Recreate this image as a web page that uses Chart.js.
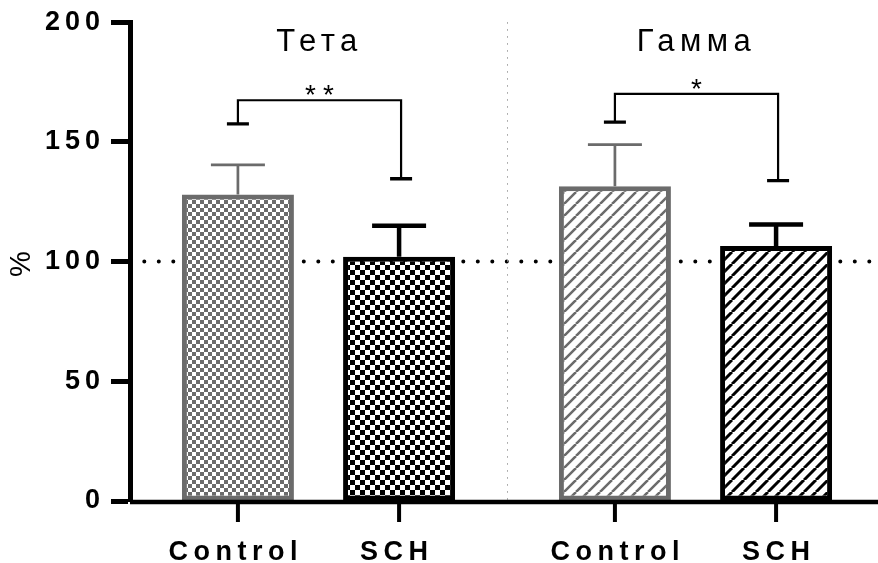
<!DOCTYPE html>
<html>
<head>
<meta charset="utf-8">
<script src="https://cdn.jsdelivr.net/npm/chart.js@4"></script>
<style>
  html, body { margin: 0; padding: 0; overflow: hidden; background: #fff; }
</style>
</head>
<body>
<canvas id="myChart" width="884" height="563"></canvas>
<script>
const bands = ['Тета', 'Гамма'];
const groups = ['Control', 'SCH'];
const controlMean = [128, 131.5];
const controlSem = [12.4, 17.4];
const schMean = [102, 106.5];
const schSem = [13, 9];
// significance brackets: left foot, top line, right foot
const sigLeft = [157.5, 158.3];
const sigTop = [167.4, 170.1];
const sigRight = [134.6, 133.8];
const sigText = ['**', '*'];
const refLine = 100;
const yTicks = [0, 50, 100, 150, 200];

const FONT = '"Liberation Sans", Arial, sans-serif';
const GRAY = '#6b6b6b';

const canvas = document.getElementById('myChart');
const ctx = canvas.getContext('2d');

function checker(size, color) {
  const c = document.createElement('canvas');
  c.width = c.height = size * 2;
  const g = c.getContext('2d');
  g.fillStyle = '#fff';
  g.fillRect(0, 0, size * 2, size * 2);
  g.fillStyle = color;
  g.fillRect(0, 0, size, size);
  g.fillRect(size, size, size, size);
  return ctx.createPattern(c, 'repeat');
}

function hatch(step, color, w) {
  const c = document.createElement('canvas');
  c.width = c.height = step;
  const g = c.getContext('2d');
  g.fillStyle = '#fff';
  g.fillRect(0, 0, step, step);
  g.strokeStyle = color;
  g.lineWidth = w;
  g.beginPath();
  [-step, 0, step].forEach(k => {
    g.moveTo(k, step);
    g.lineTo(k + step, 0);
  });
  g.stroke();
  return ctx.createPattern(c, 'repeat');
}

const controlFill = [checker(4, GRAY), hatch(12, GRAY, 2.5)];
const schFill = [checker(5, '#000'), hatch(12, '#000', 3)];

const extras = {
  id: 'extras',
  beforeDraw(chart) {
    chart.ctx.letterSpacing = '5px';
  },
  beforeDatasetsDraw(chart) {
    const { ctx, chartArea, scales: { x, y } } = chart;
    ctx.save();
    // dotted 100% line
    const yb = y.getPixelForValue(refLine);
    ctx.strokeStyle = '#000';
    ctx.lineWidth = 4;
    ctx.lineCap = 'round';
    ctx.setLineDash([0, 14.5]);
    ctx.beginPath();
    ctx.moveTo(chartArea.left + 14.3, yb);
    ctx.lineTo(chart.width, yb);
    ctx.stroke();
    // divider between bands
    const xm = Math.round((x.getPixelForValue(0) + x.getPixelForValue(1)) / 2) + 0.5;
    ctx.setLineDash([1.5, 5.5]);
    ctx.lineCap = 'butt';
    ctx.lineWidth = 1;
    ctx.strokeStyle = '#9a9a9a';
    ctx.beginPath();
    ctx.moveTo(xm, chartArea.top);
    ctx.lineTo(xm, chartArea.bottom);
    ctx.stroke();
    ctx.restore();
  },
  afterDatasetsDraw(chart) {
    const { ctx, chartArea, scales: { x, y } } = chart;
    const metaC = chart.getDatasetMeta(0);
    const metaS = chart.getDatasetMeta(1);
    ctx.save();
    ctx.setLineDash([]);

    // error bars (upper only)
    const errs = [
      { meta: metaC, mean: controlMean, sem: controlSem, color: GRAY, w: 2.7 },
      { meta: metaS, mean: schMean, sem: schSem, color: '#000', w: 4.5 },
    ];
    errs.forEach(e => {
      ctx.strokeStyle = e.color;
      ctx.lineWidth = e.w;
      e.meta.data.forEach((bar, j) => {
        const yTop = y.getPixelForValue(e.mean[j] + e.sem[j]);
        ctx.beginPath();
        ctx.moveTo(bar.x, bar.y);
        ctx.lineTo(bar.x, yTop);
        ctx.moveTo(bar.x - 27, yTop);
        ctx.lineTo(bar.x + 27, yTop);
        ctx.stroke();
      });
    });

    // x axis line and ticks
    ctx.strokeStyle = '#000';
    ctx.lineWidth = 4.5;
    ctx.beginPath();
    ctx.moveTo(chartArea.left, chartArea.bottom + 1);
    ctx.lineTo(chart.width, chartArea.bottom + 1);
    ctx.stroke();
    ctx.lineWidth = 4;
    [metaC, metaS].forEach(m => m.data.forEach(bar => {
      ctx.beginPath();
      ctx.moveTo(bar.x, chartArea.bottom);
      ctx.lineTo(bar.x, chartArea.bottom + 21);
      ctx.stroke();
    }));

    // x labels (first band's labels sit a little left of the ticks)
    ctx.fillStyle = '#000';
    ctx.textAlign = 'center';
    ctx.textBaseline = 'alphabetic';
    ctx.font = 'bold 27px ' + FONT;
    ctx.letterSpacing = '5.5px';
    [metaC, metaS].forEach((m, i) => m.data.forEach((bar, j) => {
      const shift = j === 0 ? -5 : 0;
      ctx.fillText(groups[i], bar.x + 2.75 + shift, 560);
    }));

    // band titles
    ctx.font = '31px ' + FONT;
    ctx.letterSpacing = '5.5px';
    bands.forEach((b, j) => {
      ctx.fillText(b, x.getPixelForValue(j) + 1, 51);
    });

    // significance brackets
    bands.forEach((b, j) => {
      const xl = metaC.data[j].x;
      const xr = metaS.data[j].x + 2;
      const yl = y.getPixelForValue(sigLeft[j]);
      const yt = y.getPixelForValue(sigTop[j]);
      const yr = y.getPixelForValue(sigRight[j]);
      ctx.lineWidth = 2.2;
      ctx.beginPath();
      ctx.moveTo(xl, yl);
      ctx.lineTo(xl, yt);
      ctx.lineTo(xr, yt);
      ctx.lineTo(xr, yr);
      ctx.stroke();
      ctx.lineWidth = 3.3;
      ctx.beginPath();
      ctx.moveTo(xl - 11, yl);
      ctx.lineTo(xl + 11, yl);
      ctx.moveTo(xr - 11, yr);
      ctx.lineTo(xr + 11, yr);
      ctx.stroke();
      ctx.font = '28px ' + FONT;
      ctx.letterSpacing = '7px';
      ctx.fillText(sigText[j], (xl + xr) / 2 + 3.5, yt + 4);
    });
    ctx.restore();
  },
};

new Chart(ctx, {
  type: 'bar',
  data: {
    labels: bands,
    datasets: [
      {
        label: groups[0],
        data: controlMean,
        backgroundColor: controlFill,
        borderColor: GRAY,
        borderWidth: 5,
        borderSkipped: false,
        categoryPercentage: 0.855,
        barPercentage: 0.695,
      },
      {
        label: groups[1],
        data: schMean,
        backgroundColor: schFill,
        borderColor: '#000',
        borderWidth: 5,
        borderSkipped: false,
        categoryPercentage: 0.855,
        barPercentage: 0.695,
      },
    ],
  },
  options: {
    responsive: false,
    animation: false,
    layout: { padding: { top: 22, bottom: 62, left: 0, right: 0 } },
    plugins: { legend: { display: false }, tooltip: { enabled: false } },
    scales: {
      x: { type: 'category', display: false },
      y: {
        min: 0,
        max: 200,
        afterFit: s => { s.width = 130; },
        afterBuildTicks: s => { s.ticks = yTicks.map(v => ({ value: v })); },
        border: { display: true, width: 5, color: '#000' },
        grid: { drawOnChartArea: false, drawTicks: true, tickLength: 19, tickWidth: 5, tickColor: '#000' },
        ticks: { color: '#000', padding: 6, font: { family: FONT, size: 27, weight: 'bold' } },
        title: {
          display: true,
          text: '%',
          color: '#000',
          padding: { top: 5, bottom: 0 },
          font: { family: FONT, size: 29 },
        },
      },
    },
  },
  plugins: [extras],
});
</script>
</body>
</html>
